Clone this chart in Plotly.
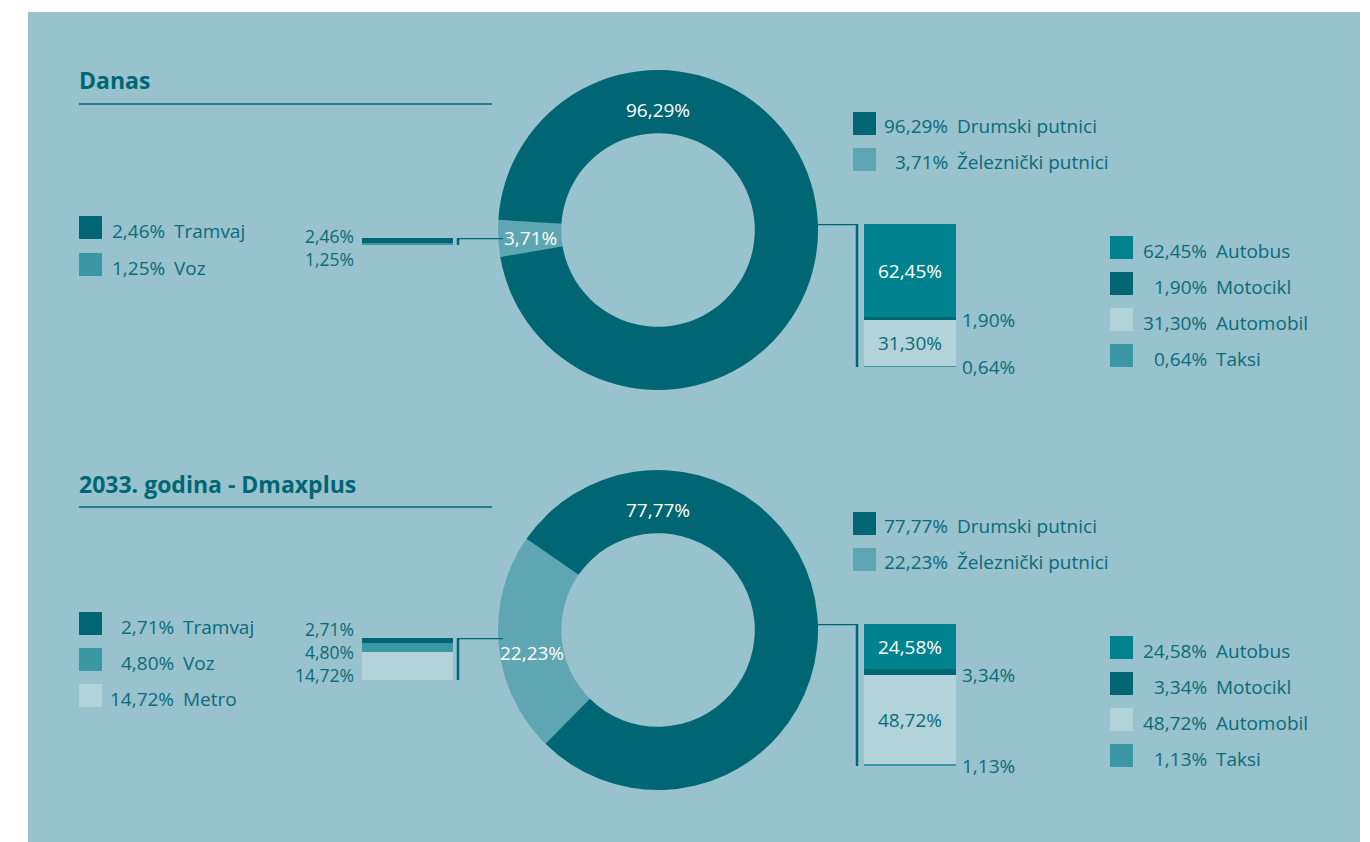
import plotly.graph_objects as go

# ---------------- data ----------------
split_names = ["Drumski putnici", "Železnički putnici"]
danas_split = [96.29, 3.71]
dmax_split = [77.77, 22.23]

rail_names_danas = ["Tramvaj", "Voz"]
rail_danas = [2.46, 1.25]
rail_names_dmax = ["Tramvaj", "Voz", "Metro"]
rail_dmax = [2.71, 4.80, 14.72]

road_names = ["Autobus", "Motocikl", "Automobil", "Taksi"]
road_danas = [62.45, 1.90, 31.30, 0.64]
road_dmax = [24.58, 3.34, 48.72, 1.13]

titles = ["Danas", "2033. godina - Dmaxplus"]

# ---------------- style ----------------
W, H = 1370, 842
FONT = "Open Sans"
PANEL = "#97C2CE"
DARK = "#006673"
RAILC = "#5EA6B2"
BUS = "#00838F"
LIGHT = "#B3D3DB"
MID = "#3A97A3"
TEXT = "#0B6B77"
WHITE = "#FFFFFF"

split_colors = [DARK, RAILC]
rail_colors = {"Tramvaj": DARK, "Voz": MID, "Metro": LIGHT}
road_colors = {"Autobus": BUS, "Motocikl": DARK, "Automobil": LIGHT, "Taksi": MID}
road_inside = {"Autobus": WHITE, "Automobil": TEXT}

LEFT_PX_PER_PCT = 1.89
FS = 19


def X(p):
    return p / W


def Y(p):
    return 1 - p / H


def fmt(v):
    return f"{v:.2f}".replace(".", ",") + "%"


fig = go.Figure()
shapes = []
annotations = []

# panel
shapes.append(dict(type="rect", xref="paper", yref="paper", x0=X(28), x1=X(1360),
                   y0=Y(842), y1=Y(12), fillcolor=PANEL, line=dict(width=0), layer="below"))


def txt(x, y, s, size=FS, color=TEXT, xanchor="left", bold=False, align="left"):
    annotations.append(dict(x=X(x), y=Y(y), xref="paper", yref="paper", text=(f"<b>{s}</b>" if bold else s),
                            showarrow=False, xanchor=xanchor, yanchor="middle", align=align,
                            font=dict(family=FONT, size=size, color=color)))


def square(x, ytop, color, size=23):
    shapes.append(dict(type="rect", xref="paper", yref="paper", x0=X(x), x1=X(x + size),
                       y0=Y(ytop + size), y1=Y(ytop), fillcolor=color, line=dict(width=0)))


sections = [
    dict(title=titles[0], title_y=80, line_y=104, split=danas_split, rail=rail_danas, rail_names=rail_names_danas,
         road=road_danas, cy=230, rotation=260.3, road_lbl=(658, 110), rail_lbl=(530, 238),
         lleg_sq_top=216, lleg_step=37, lleg_pct_right=165, lbar_top=238, lbar_lbl_y=248,
         rbar=(224, 367), tleg_top=112, rleg_top=236),
    dict(title=titles[1], title_y=484, line_y=507, split=dmax_split, rail=rail_dmax, rail_names=rail_names_dmax,
         road=road_dmax, cy=630, rotation=224.7, road_lbl=(658, 510), rail_lbl=(532, 653),
         lleg_sq_top=612, lleg_step=36, lleg_pct_right=174, lbar_top=638, lbar_lbl_y=652,
         rbar=(624, 766), tleg_top=512, rleg_top=636),
]

layout_axes = {}
ax_i = 0
for s in sections:
    # title and underline
    txt(77, s["title_y"], s["title"], size=23, color=DARK, bold=True)
    shapes.append(dict(type="line", xref="paper", yref="paper", x0=X(79), x1=X(492),
                       y0=Y(s["line_y"]), y1=Y(s["line_y"]), line=dict(color=DARK, width=1.5)))

    # donut
    cy = s["cy"]
    fig.add_trace(go.Pie(values=s["split"][::-1], labels=split_names[::-1], sort=False,
                         direction="clockwise", rotation=s["rotation"], hole=0.605,
                         marker=dict(colors=split_colors[::-1], line=dict(width=0)),
                         textinfo="none", hoverinfo="label+value", showlegend=False,
                         domain=dict(x=[X(498), X(818)], y=[Y(cy + 160), Y(cy - 160)])))
    txt(s["road_lbl"][0], s["road_lbl"][1], fmt(s["split"][0]), color=WHITE, xanchor="center")
    txt(s["rail_lbl"][0], s["rail_lbl"][1], fmt(s["split"][1]), color=WHITE, xanchor="center")

    # top-right legend (road / rail)
    for k, (nm, v, c) in enumerate(zip(split_names, s["split"], split_colors)):
        top = s["tleg_top"] + 36 * k
        square(853, top, c)
        txt(950, top + 14, fmt(v), xanchor="right")
        txt(955, top + 14, nm)

    # ---- left (rail) bar ----
    ax_i += 1
    xa, ya = f"x{ax_i}", f"y{ax_i}"
    lb_top = s["lbar_top"]
    lb_h = 60
    layout_axes[f"xaxis{ax_i}"] = dict(domain=[X(362), X(453)], anchor=ya, range=[-0.5, 0.5], visible=False)
    layout_axes[f"yaxis{ax_i}"] = dict(domain=[Y(lb_top + lb_h), Y(lb_top)], anchor=xa,
                                       range=[lb_h / LEFT_PX_PER_PCT, 0], visible=False)
    for nm, v in zip(s["rail_names"], s["rail"]):
        fig.add_trace(go.Bar(x=["r"], y=[v], name=nm, xaxis=xa, yaxis=ya, showlegend=False,
                             marker=dict(color=rail_colors[nm], line=dict(width=0))))
    rail_total = sum(s["rail"])
    # bracket
    shapes.append(dict(type="line", xref="paper", yref=ya, x0=X(458), x1=X(458), y0=0, y1=rail_total,
                       line=dict(color=DARK, width=2.5)))
    shapes.append(dict(type="line", xref="paper", yref=ya, x0=X(457), x1=X(503), y0=0, y1=0,
                       line=dict(color=DARK, width=2.5)))
    txt(356, s["lbar_lbl_y"], "<br>".join(fmt(v) for v in s["rail"]), size=17.5,
        xanchor="right", align="right")

    # left legend
    for k, (nm, v) in enumerate(zip(s["rail_names"], s["rail"])):
        top = s["lleg_sq_top"] + s["lleg_step"] * k
        square(79, top, rail_colors[nm])
        txt(s["lleg_pct_right"] + 2, top + 15, fmt(v), xanchor="right")
        txt(s["lleg_pct_right"] + 7, top + 15, nm)

    # ---- right (road) bar ----
    ax_i += 1
    xa, ya = f"x{ax_i}", f"y{ax_i}"
    rt, rb = s["rbar"]
    road_total = sum(s["road"])
    layout_axes[f"xaxis{ax_i}"] = dict(domain=[X(864), X(956)], anchor=ya, range=[-0.5, 0.5], visible=False)
    layout_axes[f"yaxis{ax_i}"] = dict(domain=[Y(rb), Y(rt)], anchor=xa, range=[road_total, 0], visible=False)
    cum = 0
    for nm, v in zip(road_names, s["road"]):
        inside = nm in road_inside
        fig.add_trace(go.Bar(x=["r"], y=[v], name=nm, xaxis=xa, yaxis=ya, showlegend=False,
                             marker=dict(color=road_colors[nm], line=dict(width=0)),
                             text=[fmt(v)] if inside else None,
                             textposition="inside" if inside else "none",
                             insidetextanchor="middle", textangle=0,
                             textfont=dict(family=FONT, size=FS,
                                           color=road_inside.get(nm, TEXT))))
        cum += v
        if not inside:
            annotations.append(dict(x=X(960), y=cum, xref="paper", yref=ya, text=fmt(v), showarrow=False,
                                    xanchor="left", yanchor="middle",
                                    font=dict(family=FONT, size=FS, color=TEXT)))
    shapes.append(dict(type="line", xref="paper", yref=ya, x0=X(857), x1=X(857), y0=0, y1=road_total,
                       line=dict(color=DARK, width=2.5)))
    shapes.append(dict(type="line", xref="paper", yref=ya, x0=X(813), x1=X(858), y0=0, y1=0,
                       line=dict(color=DARK, width=2.5)))

    # right legend
    for k, nm in enumerate(road_names):
        top = s["rleg_top"] + 36 * k
        square(1110, top, road_colors[nm])
        txt(1209, top + 15, fmt(s["road"][k]), xanchor="right")
        txt(1214, top + 15, nm)

fig.update_layout(
    width=W, height=H, margin=dict(l=0, r=0, t=0, b=0),
    paper_bgcolor="white", plot_bgcolor="rgba(0,0,0,0)",
    barmode="stack", bargap=0,
    shapes=shapes, annotations=annotations,
    font=dict(family=FONT, color=TEXT),
    showlegend=False,
    **layout_axes,
)

fig.write_html("out.html")
